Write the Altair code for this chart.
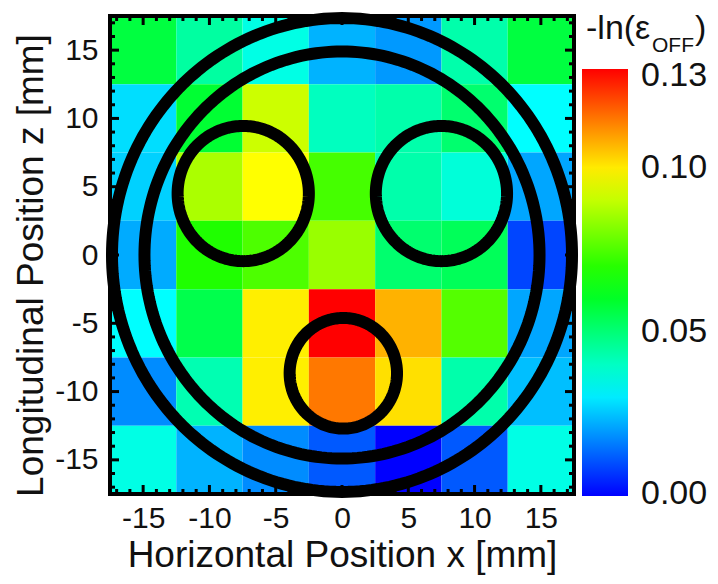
import numpy as np
import pandas as pd
import altair as alt

FONT = "Liberation Sans"
x_centers = [-15, -10, -5, 0, 5, 10, 15]
z_centers = [15, 10, 5, 0, -5, -10, -15]
row_z15 = [.0569, .0445, .0358, .0228, .0195, .0432, .0569]
row_z10 = [.0283, .0585, .0910, .0406, .0432, .0510, .0325]
row_z5 = [.0267, .0868, .0975, .0738, .0432, .0374, .0211]
row_z0 = [.0218, .0689, .0748, .0845, .0510, .0536, .0088]
row_zm5 = [.0325, .0553, .0995, .1300, .1073, .0757, .0211]
row_zm10 = [.0179, .0423, .0995, .1147, .1014, .0432, .0244]
row_zm15 = [.0358, .0228, .0179, .0114, .0000, .0114, .0358]
rows = [row_z15, row_z10, row_z5, row_z0, row_zm5, row_zm10, row_zm15]
rainbow = ["#0000ff", "#00ffff", "#00ff00", "#ffff00", "#ff0000"]
legend_ticks = [0.0007, 0.05, 0.10, 0.128]
major_ticks = [-15, -10, -5, 0, 5, 10, 15]
minor_ticks = [t for t in range(-17, 18) if t % 5]
circle_x = [0, 0, -7.45, 7.5, 0.1]
circle_z = [0, 0, 4.5, 4.5, -8.66]
circle_r = [17.35, 14.9, 4.95, 4.95, 4.05]

W, H = 464, 478
dom = [-17.5, 17.5]
cells = pd.DataFrame([
    dict(x0=x - 2.5, x1=x + 2.5, z0=z - 2.5, z1=z + 2.5, v=v)
    for z, row in zip(z_centers, rows) for x, v in zip(x_centers, row)
])
circ = []
for i, (cx, cz, r) in enumerate(zip(circle_x, circle_z, circle_r)):
    for k, a in enumerate(np.linspace(0, 2 * np.pi, 241)):
        circ.append(dict(id=i, k=k, x=cx + r * np.cos(a), z=cz + r * np.sin(a)))
circ = pd.DataFrame(circ)

xs = alt.Scale(domain=dom, nice=False, zero=False)
ys = alt.Scale(domain=dom, nice=False, zero=False)
cs = alt.Scale(domain=[0, 0.13], range=rainbow, interpolate="rgb", nice=False, zero=False)

axis_style = dict(values=major_ticks, grid=False, domain=False, ticks=False,
                  labelFontSize=30, titleFontSize=37, labelFont=FONT, titleFont=FONT,
                  titleFontWeight="normal", labelColor="#111", titleColor="#111",
                  labelFlush=False, labelOverlap=False, labelExpr="toString(datum.value)")

legend = alt.Legend(orient="none", legendX=472, legendY=53, title=None, type="gradient",
                    gradientLength=427, gradientThickness=46, gradientStrokeWidth=0,
                    values=legend_ticks, format=".2f", labelFontSize=34, labelFont=FONT,
                    labelColor="#111", labelOffset=13, labelOverlap=False,
                    labelBaseline="middle", direction="vertical")

heat = alt.Chart(cells).mark_rect().encode(
    x=alt.X("x0:Q", scale=xs, title="Horizontal Position x [mm]",
            axis=alt.Axis(labelPadding=9, titlePadding=4, **axis_style)),
    x2="x1:Q",
    y=alt.Y("z0:Q", scale=ys, title="Longitudinal Position z [mm]",
            axis=alt.Axis(labelPadding=12, titleX=-60, titleY=249, **axis_style)),
    y2="z1:Q",
    color=alt.Color("v:Q", scale=cs, legend=legend),
)

def ticks(vals, length):
    df = pd.DataFrame({"t": vals})
    base = alt.Chart(df).mark_rule(color="black", strokeWidth=3)
    return [
        base.encode(x=alt.X("t:Q", scale=xs), y=alt.value(H), y2=alt.value(H - length)),
        base.encode(x=alt.X("t:Q", scale=xs), y=alt.value(0), y2=alt.value(length)),
        base.encode(y=alt.Y("t:Q", scale=ys), x=alt.value(0), x2=alt.value(length)),
        base.encode(y=alt.Y("t:Q", scale=ys), x=alt.value(W), x2=alt.value(W - length)),
    ]

frame = alt.Chart(pd.DataFrame({"a": [dom[0]], "b": [dom[1]]})).mark_rect(
    filled=False, stroke="black", strokeWidth=4, fillOpacity=0
).encode(x=alt.X("a:Q", scale=xs), x2="b:Q", y=alt.Y("a:Q", scale=ys), y2="b:Q")

rings = alt.Chart(circ).mark_line(color="black", strokeWidth=12, clip=False).encode(
    x=alt.X("x:Q", scale=xs), y=alt.Y("z:Q", scale=ys), detail="id:N", order="k:Q"
)

def label(txt, px, py, size):
    return alt.Chart(pd.DataFrame({"s": [txt]})).mark_text(
        font=FONT, fontSize=size, align="left", baseline="alphabetic", color="#111", clip=False
    ).encode(text="s:N", x=alt.value(px), y=alt.value(py))

chart = alt.layer(
    heat, frame, *ticks(major_ticks, 9), *ticks(minor_ticks, 5), rings,
    label("-ln(\u03b5", 476, 23, 34), label("OFF", 542, 36, 21), label(")", 585, 23, 34),
).resolve_scale(x="shared", y="shared").properties(
    width=W, height=H,
    autosize=alt.AutoSizeParams(type="none"),
    padding={"left": 102, "top": 8, "right": 136, "bottom": 82},
).configure_view(stroke=None)

chart.save("out.html", embed_options={"renderer": "svg", "actions": False})
